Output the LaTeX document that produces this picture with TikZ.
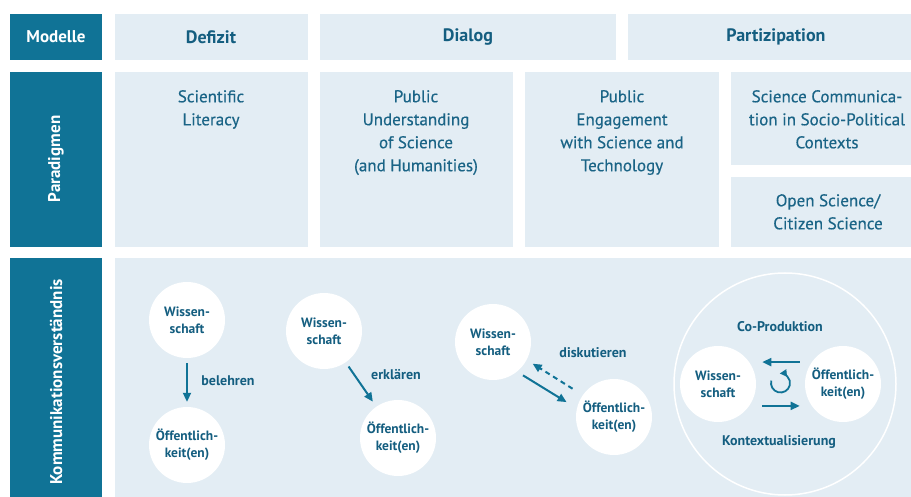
\documentclass[tikz,border=0pt]{standalone}
\usepackage{fontspec}
\setmainfont{PT Sans}
\newfontfamily\mittelschrift[FakeBold=0.4]{PT Sans}
\usetikzlibrary{arrows.meta}
\definecolor{petrol}{RGB}{16,115,150}
\definecolor{hellblau}{RGB}{227,237,244}
\definecolor{kopfblau}{RGB}{20,94,128}
\definecolor{textblau}{RGB}{26,100,134}
\begin{document}
\begin{tikzpicture}[x=1pt, y=-1pt,
  seite/.style={fill=petrol},
  kasten/.style={fill=hellblau},
  seitentext/.style={text=white, font=\bfseries\fontsize{17}{21}\selectfont, inner sep=0pt},
  kopf/.style={text=kopfblau, font=\bfseries\fontsize{18}{21}\selectfont, inner sep=0pt},
  paradigma/.style={text=textblau, font=\mittelschrift\fontsize{17}{23}\selectfont, align=center, anchor=north, inner sep=0pt},
  kreis/.style={circle, fill=white, minimum size=76pt, inner sep=0pt, align=center, text=kopfblau, font=\bfseries\fontsize{13.5}{17}\selectfont},
  etikett/.style={text=kopfblau, font=\bfseries\fontsize{14}{17}\selectfont, inner sep=0pt},
  pfeil/.style={draw=petrol, line width=2pt, -{Triangle[length=9pt, width=8pt]}},
  strich/.style={dash pattern=on 5pt off 4pt}]
			\useasboundingbox[fill=white] (0,0) rectangle (911,497);
			% linke Spalte
			\fill[seite] (10,14) rectangle (102,60);
			\fill[seite] (10,72) rectangle (102,247);
			\fill[seite] (10,258) rectangle (102,497);
			\node[seitentext] (modelle) at (56,37) {Modelle};
			\node[seitentext, rotate=90] (paradigmen) at (56,159) {Paradigmen};
			\node[seitentext, rotate=90] (kommunikation) at (56,382) {Kommunikationsverständnis};
			% Modelle
			\fill[kasten] (115,14) rectangle (308,60);
			\fill[kasten] (320,14) rectangle (616,60);
			\fill[kasten] (628,14) rectangle (911,60);
			\node[kopf] (defizit) at (211,37) {Defizit};
			\node[kopf] (dialog) at (468,37) {Dialog};
			\node[kopf] (partizipation) at (776,37) {Partizipation};
			% Paradigmen
			\fill[kasten] (115,72) rectangle (308,247);
			\fill[kasten] (320,72) rectangle (513,247);
			\fill[kasten] (525,72) rectangle (719,247);
			\fill[kasten] (731,72) rectangle (911,165);
			\fill[kasten] (731,177) rectangle (911,247);
			\node[paradigma] (literacy) at (211,90) {Scientific\\Literacy};
			\node[paradigma] (pus) at (416,90) {Public\\Understanding\\of Science\\(and Humanities)};
			\node[paradigma] (pest) at (622,90) {Public\\Engagement\\with Science and\\Technology};
			\node[paradigma] (scspc) at (827,90) {Science Communica-\\tion in Socio-Political\\Contexts};
			\node[paradigma] (open) at (828,194) {Open Science/\\Citizen Science};
			% Kommunikationsverstaendnis
			\fill[kasten] (115,258) rectangle (911,497);
			% Defizit
			\node[kreis] (w1) at (187,320) {Wissen-\\schaft};
			\node[kreis] (o1) at (187,445) {Öffentlich-\\keit(en)};
			\draw[pfeil, shorten <=5pt, shorten >=5pt] (w1) -- (o1);
			\node[etikett] (belehren) at (228,381) {belehren};
			% Dialog
			\node[kreis] (w2) at (324,331) {Wissen-\\schaft};
			\node[kreis] (o2) at (398,438) {Öffentlich-\\keit(en)};
			\draw[pfeil, shorten <=5pt, shorten >=6pt] (w2) -- (o2);
			\node[etikett] (erklaeren) at (396,375) {erklären};
			% Diskurs
			\node[kreis] (w3) at (493,342) {Wissen-\\schaft};
			\node[kreis] (o3) at (614,417) {Öffentlich-\\keit(en)};
			\draw[pfeil, shorten <=7pt, shorten >=12pt] (w3.-51) -- (o3.167);
			\draw[pfeil, strich, shorten <=12pt, shorten >=7pt] (o3.145) -- (w3.-28);
			\node[etikett] (diskutieren) at (593,353) {diskutieren};
			% Partizipation
			\node[circle, draw=white, line width=1.5pt, minimum size=222pt] (ko) at (785,384) {};
			\node[kreis] (w4) at (718,384) {Wissen-\\schaft};
			\node[kreis] (o4) at (843,384) {Öffentlich-\\keit(en)};
			\draw[pfeil, shorten <=12pt, shorten >=13pt] (o4.145) -- (w4.35);
			\draw[pfeil, shorten <=13pt, shorten >=12pt] (w4.-35) -- (o4.-145);
			\coordinate (kreisel) at (780.5,383);
			\draw[pfeil, line width=1.8pt, -{Triangle[length=7pt, width=7pt]}] ([shift={(-165:9.5)}]kreisel) arc[start angle=-165, end angle=-455, radius=9.5];
			\node[etikett] (koproduktion) at (780,327) {Co-Produktion};
			\node[etikett] (kontext) at (779,442) {Kontextualisierung};
		\end{tikzpicture}
\end{document}
